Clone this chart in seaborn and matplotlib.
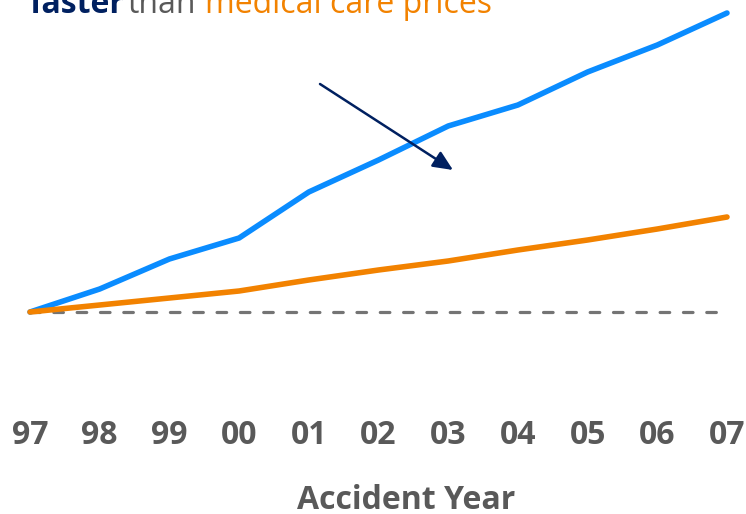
import matplotlib
matplotlib.use("Agg")
import matplotlib.pyplot as plt
import seaborn as sns
import pandas as pd
import numpy as np

# ---- data (index, 1997 = 100) ----
years = ["97", "98", "99", "00", "01", "02", "03", "04", "05", "06", "07"]
claim_costs = [100, 111.5, 126.5, 137, 160, 176, 193, 203.5, 220, 233.5, 249.5]
medical_prices = [100, 103.5, 107, 110.5, 116, 121, 125.5, 131, 136, 141.5, 147.5]
baseline = [100] * len(years)

BLUE = "#0A8CFF"
ORANGE = "#F28200"
NAVY = "#002060"
GRAY = "#595959"

sns.set_theme(style="white")
plt.rcParams["font.family"] = ["Open Sans", "DejaVu Sans"]

pos = list(range(len(years)))
df = pd.DataFrame({
    "pos": pos * 2,
    "value": claim_costs + medical_prices,
    "series": ["Claim costs"] * len(years) + ["Medical care prices"] * len(years),
})

W, H = 746, 514
fig = plt.figure(figsize=(W / 100, H / 100), dpi=100)
ax_bottom_px = 405
ax = fig.add_axes([0, 1 - ax_bottom_px / H, 1, ax_bottom_px / H])

# baseline dashed
ax.plot(pos, baseline, color="#747474", lw=2.3, dashes=(3.0, 4.3),
        dash_capstyle="round", solid_capstyle="round", zorder=1)

sns.lineplot(data=df, x="pos", y="value", hue="series",
             palette=[BLUE, ORANGE], hue_order=["Claim costs", "Medical care prices"],
             ax=ax, legend=False, linewidth=4.0, zorder=3)
for ln in ax.lines:
    ln.set_solid_capstyle("round")
    ln.set_solid_joinstyle("round")
# keep orange over blue at start
ax.lines[-1].set_zorder(4)

# scale: px -> data
x0_px, dx_px = 30, 69.7
ax.set_xlim(-x0_px / dx_px, (W - x0_px) / dx_px)
ax.set_ylim(100 + (312 - ax_bottom_px) * 0.5, 100 + 312 * 0.5)

def px2data(px, py):
    return ((px - x0_px) / dx_px, 100 + (312 - py) * 0.5)

# arrow
ax.annotate("", xy=px2data(453, 170), xytext=px2data(320, 84),
            arrowprops=dict(arrowstyle="-|>,head_length=1.0,head_width=0.45",
                            color=NAVY, lw=1.8, shrinkA=0, shrinkB=0), zorder=5)

ax.set_xticks(pos)
ax.set_xticklabels(years, fontsize=23, fontweight="bold", color=GRAY)
ax.tick_params(axis="x", length=0, pad=10)
ax.set_yticks([])
for s in ax.spines.values():
    s.set_visible(False)

ax.set_xlabel("Accident Year", fontsize=23, fontweight="bold", color=GRAY, va="baseline")
ax.set_ylabel("")
fig.canvas.draw()
# position the xlabel by figure pixels
inv = ax.transAxes.inverted()
lx, ly = inv.transform((406, H - 509))
ax.xaxis.set_label_coords(lx, ly)

# title (cut off at top, as in the reference)
ty = 1 - 13 / H
fig.text(29 / W, ty, "faster", fontsize=23, fontweight="bold", color=NAVY, va="baseline", ha="left")
fig.text(128 / W, ty, "than", fontsize=23, color=GRAY, va="baseline", ha="left")
fig.text(205 / W, ty, "medical care prices", fontsize=23, color=ORANGE, va="baseline", ha="left")

fig.savefig("out.png", dpi=100)
